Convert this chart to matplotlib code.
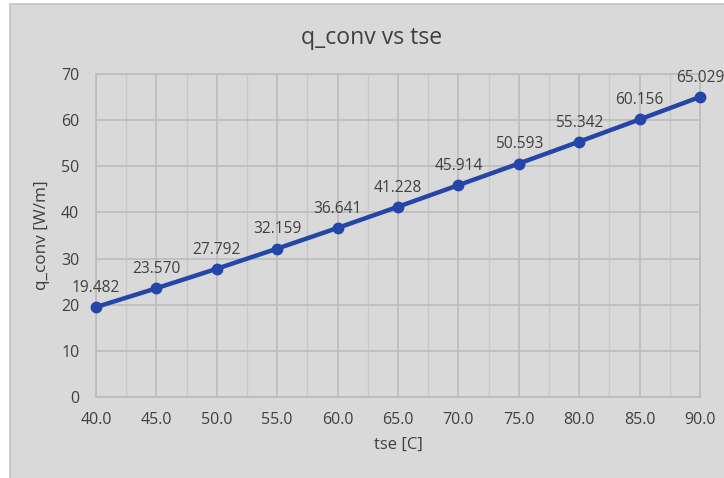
import matplotlib.pyplot as plt
from matplotlib.patches import Rectangle
from matplotlib.ticker import MultipleLocator

tse = [40.0, 45.0, 50.0, 55.0, 60.0, 65.0, 70.0, 75.0, 80.0, 85.0, 90.0]
q_conv = [19.482, 23.570, 27.792, 32.159, 36.641, 41.228, 45.914,
          50.593, 55.342, 60.156, 65.029]

BG = "#d9d9d9"
GRID = "#bcbcbc"
TEXT = "#404040"
LINE = "#2446a8"

plt.rcParams["font.family"] = ["Open Sans", "DejaVu Sans"]

fig = plt.figure(figsize=(7.24, 4.78), dpi=100)
fig.patch.set_facecolor("white")

# chart area box with thin grey border
fig.patches.append(Rectangle((10 / 724, -0.1), 1.2, 1.1 - 4 / 478,
                             transform=fig.transFigure, facecolor=BG,
                             edgecolor="#c4c4c4", linewidth=1.2, zorder=-10))

ax = fig.add_axes([96 / 724, 1 - 397 / 478, 604 / 724, 323 / 478])
ax.set_facecolor(BG)

ax.plot(tse, q_conv, color=LINE, linewidth=3.2, marker="o",
        markersize=7.5, zorder=3, clip_on=False)

for x, y in zip(tse, q_conv):
    ax.annotate(f"{y:.3f}", (x, y), xytext=(0, 8), textcoords="offset points",
                ha="center", va="bottom", fontsize=11.2, color=TEXT)

ax.set_xlim(40, 90)
ax.set_ylim(0, 70)
ax.xaxis.set_minor_locator(MultipleLocator(2.5))
ax.yaxis.set_major_locator(MultipleLocator(10))
ax.set_xticks(tse)
ax.set_xticklabels([f"{v:.1f}" for v in tse])

ax.grid(True, which="major", color=GRID, linewidth=1.2)
ax.grid(True, which="minor", axis="x", color="#c8c8c8", linewidth=1.0)
ax.set_axisbelow(True)
for s in ax.spines.values():
    s.set_color(GRID)
    s.set_linewidth(1.2)

ax.tick_params(which="both", length=0, colors=TEXT, labelsize=11.5)
ax.tick_params(axis="x", pad=11)
ax.tick_params(axis="y", pad=12)

ax.set_xlabel("tse [C]", fontsize=12, color=TEXT, labelpad=6)
ax.set_ylabel("q_conv [W/m]", fontsize=12.3, color=TEXT, labelpad=8)
fig.text(372 / 724, 1 - 38 / 478, "q_conv vs tse", ha="center", va="center",
         fontsize=16.6, color=TEXT)

fig.savefig("out.png", dpi=100, facecolor=fig.get_facecolor())
